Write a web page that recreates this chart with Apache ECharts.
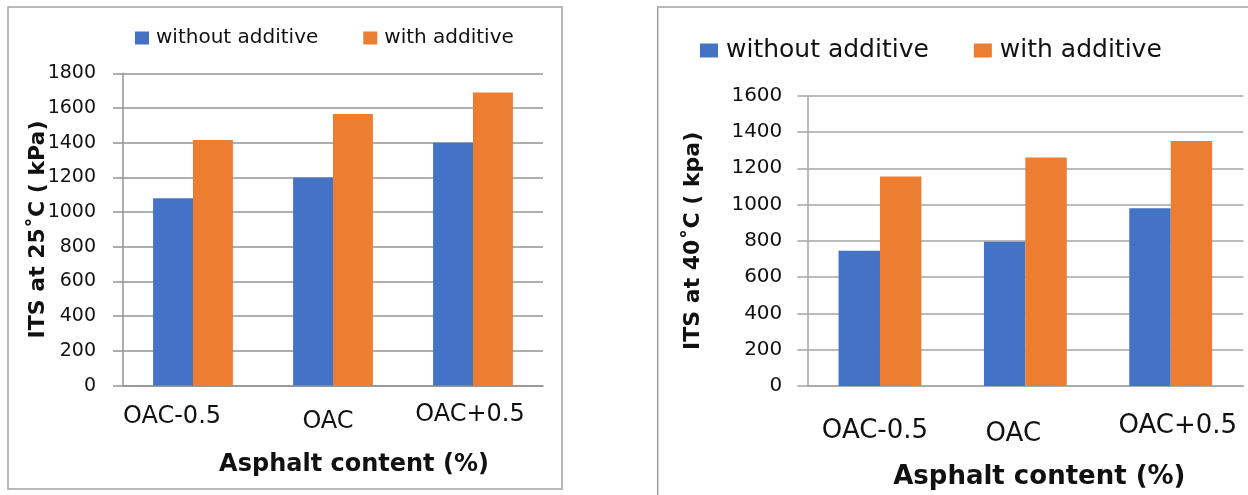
<!DOCTYPE html>
<html>
<head>
<meta charset="utf-8">
<title>Indirect tensile strength</title>
<script src="https://cdn.jsdelivr.net/npm/echarts@6/dist/echarts.min.js"></script>
<style>
  html, body { margin: 0; padding: 0; background: #fff; }
  #chart { width: 1248px; height: 495px; }
</style>
</head>
<body>
<div id="chart"></div>
<script>
// Asphalt content levels shared by both panels
const categories = ['OAC-0.5', 'OAC', 'OAC+0.5'];
const seriesNames = ['without additive', 'with additive'];

// ITS at 25 °C (kPa)
const its25Without = [1080, 1200, 1400];
const its25With = [1415, 1565, 1690];

// ITS at 40 °C (kpa)
const its40Without = [745, 795, 980];
const its40With = [1155, 1260, 1350];

// Value-axis ranges
const leftAxisMax = 1800;
const rightAxisMax = 1600;
const axisStep = 200;

const FONT = 'DejaVu Sans';
const BLUE = '#4472C4';
const ORANGE = '#ED7D31';
const GRID_GREY_L = '#939393';
const GRID_GREY_R = '#a6a6a6';
const TEXT = '#111';

// Per-label nudges for the category labels: [dx, dy]
const leftLabelShift = [[-21, 2], [-5, 7], [-3, 0]];
const rightLabelShift = [[-5, 5], [-12, 8], [7, 0]];

function labelRich(shifts, size) {
  const rich = {};
  shifts.forEach(function (s, i) {
    const dx = s[0], dy = s[1];
    rich['c' + i] = {
      fontFamily: FONT, fontSize: size, color: TEXT,
      padding: [dy, dx < 0 ? -2 * dx : 0, 0, dx > 0 ? 2 * dx : 0]
    };
  });
  return rich;
}

function valueAxis(gridIndex, max, opts) {
  return {
    type: 'value', gridIndex: gridIndex, min: 0, max: max, interval: axisStep,
    name: opts.name, nameLocation: 'middle', nameGap: opts.nameGap, nameRotate: 90,
    nameMoveOverlap: opts.moveOverlap,
    nameTextStyle: { fontFamily: FONT, fontWeight: 'bold', fontSize: opts.nameSize, color: TEXT },
    axisLine: { show: true, lineStyle: { color: opts.grey, width: 1.5 } },
    axisTick: { show: true, inside: false, length: 10, lineStyle: { color: opts.grey, width: 1.5 } },
    axisLabel: {
      fontFamily: FONT, fontSize: opts.labelSize, color: TEXT, margin: opts.labelMargin,
      formatter: function (v) { return String(v); }
    },
    splitLine: { show: true, lineStyle: { color: opts.grey, width: 1.5 } }
  };
}

function categoryAxis(gridIndex, shifts, opts) {
  return {
    type: 'category', gridIndex: gridIndex, data: categories,
    name: 'Asphalt content (%)', nameLocation: 'middle', nameGap: opts.nameGap,
    nameTextStyle: {
      fontFamily: FONT, fontWeight: 'bold', fontSize: opts.nameSize, color: TEXT,
      padding: [0, 0, 0, opts.nameShift]
    },
    axisLine: { show: true, lineStyle: { color: opts.grey, width: 1.5 } },
    axisTick: { show: false },
    axisLabel: {
      margin: opts.labelMargin,
      formatter: function (v, i) { return '{c' + i + '|' + v + '}'; },
      rich: labelRich(shifts, opts.labelSize)
    }
  };
}

function barSeries(name, data, color, axisIndex) {
  return {
    type: 'bar', name: name, data: data,
    xAxisIndex: axisIndex, yAxisIndex: axisIndex,
    barGap: '0%', barCategoryGap: '43%',
    itemStyle: { color: color },
    emphasis: { disabled: true }
  };
}

const chart = echarts.init(document.getElementById('chart'), null, { renderer: 'canvas' });

chart.setOption({
  animation: false,
  backgroundColor: '#fff',
  color: [BLUE, ORANGE],
  legend: [
    {
      data: seriesNames, left: 135, top: 28, padding: 0, icon: 'rect',
      itemWidth: 14, itemHeight: 13, itemGap: 45,
      textStyle: { fontFamily: FONT, fontSize: 20, color: TEXT, padding: [0, 0, 0, 2] },
      selectedMode: false
    },
    {
      data: seriesNames, left: 700, top: 38, padding: 0, icon: 'rect',
      itemWidth: 18, itemHeight: 14, itemGap: 45,
      textStyle: { fontFamily: FONT, fontSize: 25, color: TEXT, padding: [0, 0, 0, 3] },
      selectedMode: false
    }
  ],
  grid: [
    { left: 123, right: 705, top: 73.3, bottom: 109.4, containLabel: false },
    { left: 807.3, right: 4.6, top: 95.7, bottom: 101.3, containLabel: false }
  ],
  xAxis: [
    categoryAxis(0, leftLabelShift, { grey: GRID_GREY_L, nameGap: 67, nameSize: 24, nameShift: 42, labelSize: 24, labelMargin: 17 }),
    categoryAxis(1, rightLabelShift, { grey: GRID_GREY_R, nameGap: 78, nameSize: 26, nameShift: 28, labelSize: 26, labelMargin: 27 })
  ],
  yAxis: [
    // the title sits partly over the tick labels, so overlap avoidance is off
    valueAxis(0, leftAxisMax, { grey: GRID_GREY_L, name: 'ITS at 25˚C ( kPa)', nameGap: 74, moveOverlap: false, nameSize: 22, labelSize: 19, labelMargin: 27 }),
    valueAxis(1, rightAxisMax, { grey: GRID_GREY_R, name: 'ITS at 40˚C ( kpa)', nameGap: 103, moveOverlap: true, nameSize: 22, labelSize: 20, labelMargin: 25 })
  ],
  series: [
    barSeries(seriesNames[0], its25Without, BLUE, 0),
    barSeries(seriesNames[1], its25With, ORANGE, 0),
    barSeries(seriesNames[0], its40Without, BLUE, 1),
    barSeries(seriesNames[1], its40With, ORANGE, 1)
  ],
  graphic: [
    {
      type: 'rect', silent: true, z: -1,
      shape: { x: 8, y: 7, width: 554, height: 482 },
      style: { fill: null, stroke: '#a3a3a3', lineWidth: 1.5 }
    },
    {
      type: 'polyline', silent: true, z: -1,
      shape: { points: [[657.7, 495], [657.7, 7], [1248, 7]] },
      style: { fill: null, stroke: '#a3a3a3', lineWidth: 1.5 }
    }
  ]
});
</script>
</body>
</html>
